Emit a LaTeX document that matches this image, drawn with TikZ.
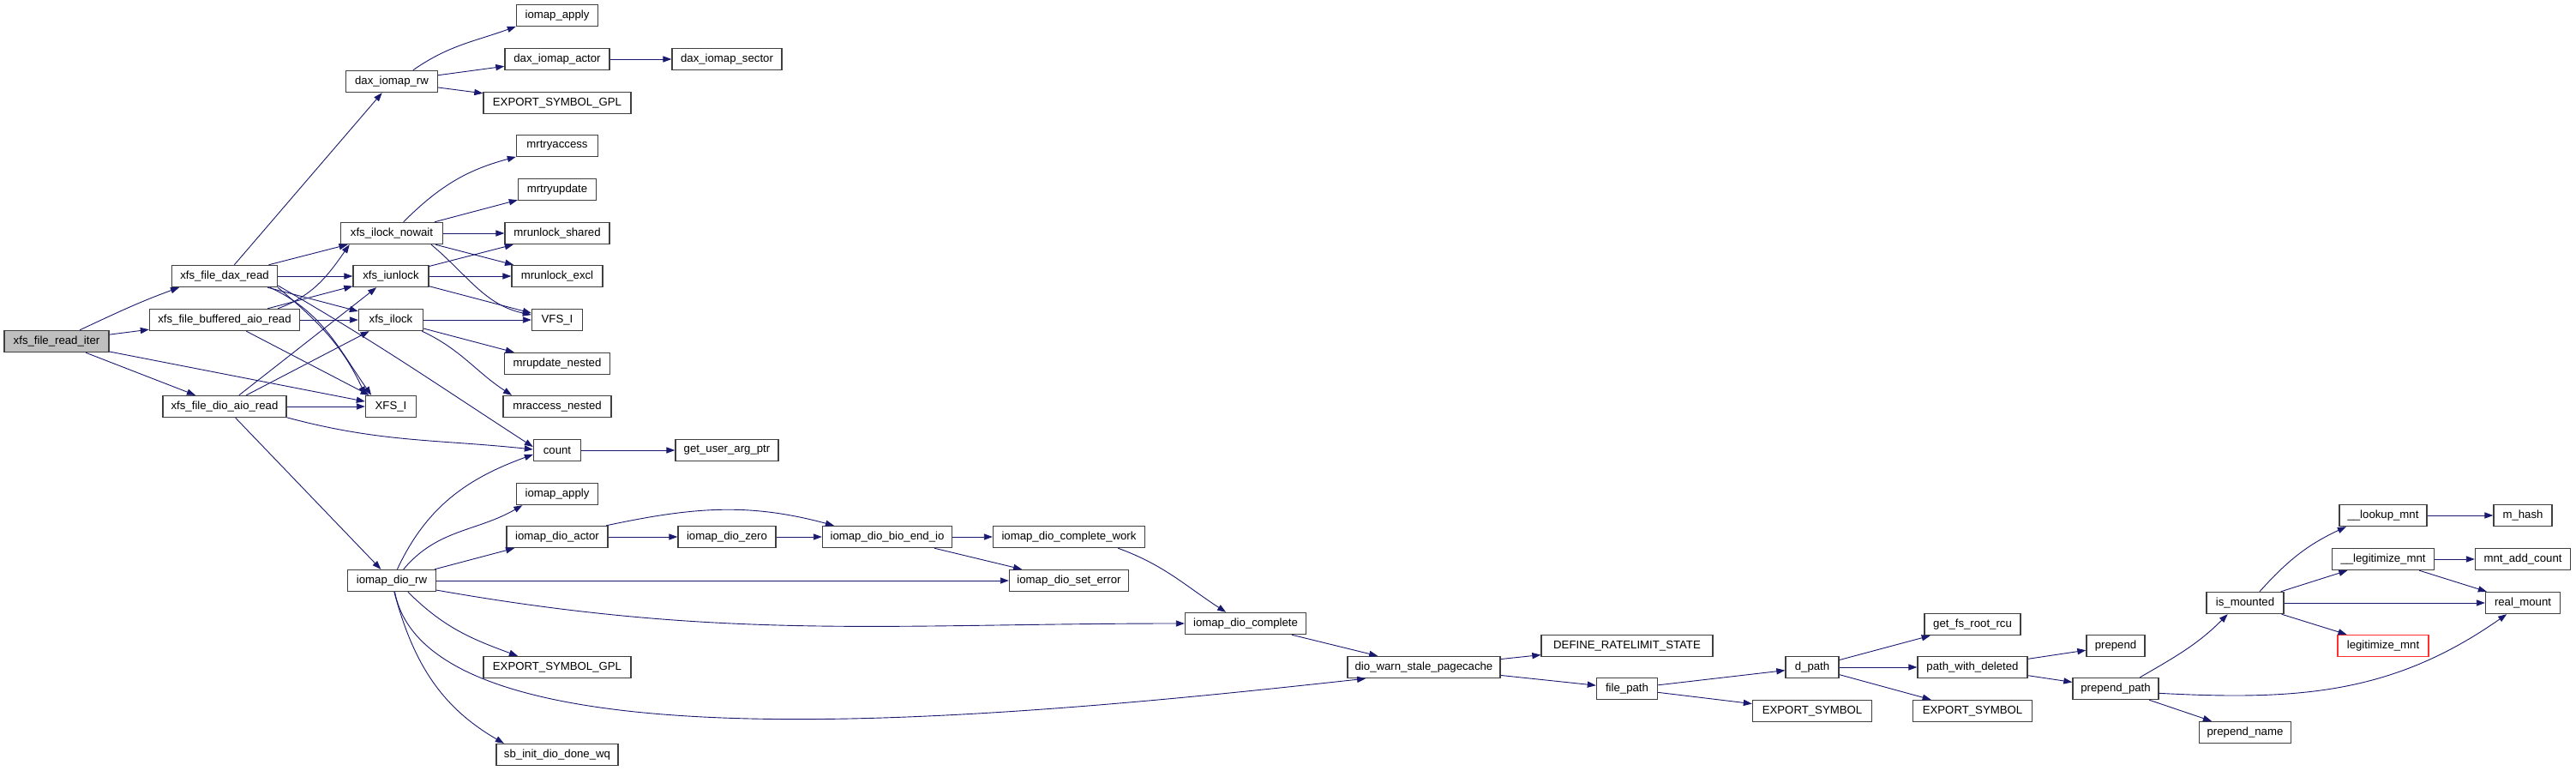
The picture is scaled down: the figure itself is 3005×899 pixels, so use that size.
\documentclass[tikz,border=0pt]{standalone}
\usepackage{fontspec}
\setmainfont{Liberation Sans}
\usetikzlibrary{arrows.meta}
\definecolor{edgeblue}{HTML}{191970}
\definecolor{boxline}{HTML}{404040}
\definecolor{rootfill}{HTML}{BFBFBF}
\definecolor{missline}{HTML}{FF3030}

\begin{document}
\begin{tikzpicture}[x=0.5pt,y=-0.5pt,>={Triangle[length=5pt,width=3.6pt]},
fnbox/.style={draw=boxline,line width=0.7pt,fill=white,minimum height=12.5pt,inner sep=1pt,font=\fontsize{6.6}{8}\selectfont},
call/.style={->,draw=edgeblue,line width=0.45pt}]
\useasboundingbox (0,0) rectangle (3005,899);
\node[fnbox,fill=rootfill,minimum width=61pt] (readiter) at (66,398) {xfs\_file\_read\_iter};
\node[fnbox,minimum width=61.5pt] (daxread) at (262,322) {xfs\_file\_dax\_read};
\node[fnbox,minimum width=87.5pt] (bufread) at (262,373) {xfs\_file\_buffered\_aio\_read};
\node[fnbox,minimum width=72pt] (dioread) at (262,474) {xfs\_file\_dio\_aio\_read};
\node[fnbox,minimum width=53.5pt] (daxrw) at (457,95) {dax\_iomap\_rw};
\node[fnbox,minimum width=59.5pt] (ilocknw) at (457,272) {xfs\_ilock\_nowait};
\node[fnbox,minimum width=44pt] (iunlock) at (456,322) {xfs\_iunlock};
\node[fnbox,minimum width=37.5pt] (ilock) at (456,373) {xfs\_ilock};
\node[fnbox,minimum width=29.5pt] (xfsi) at (456,474) {XFS\_I};
\node[fnbox,minimum width=51.5pt] (diorw) at (457,677) {iomap\_dio\_rw};
\node[fnbox,minimum width=47.5pt] (apply1) at (650,18) {iomap\_apply};
\node[fnbox,minimum width=61pt] (daxactor) at (650,69) {dax\_iomap\_actor};
\node[fnbox,minimum width=86pt] (expgpl1) at (650,120) {EXPORT\_SYMBOL\_GPL};
\node[fnbox,minimum width=47.5pt] (mrtryacc) at (650,170) {mrtryaccess};
\node[fnbox,minimum width=45.5pt] (mrtryupd) at (650,221) {mrtryupdate};
\node[fnbox,minimum width=61pt] (mrunlsh) at (650,272) {mrunlock\_shared};
\node[fnbox,minimum width=53pt] (mrunlex) at (650,322) {mrunlock\_excl};
\node[fnbox,minimum width=29.5pt] (vfsi) at (650,373) {VFS\_I};
\node[fnbox,minimum width=61.5pt] (mrupdn) at (650,424) {mrupdate\_nested};
\node[fnbox,minimum width=63pt] (mraccn) at (650,474) {mraccess\_nested};
\node[fnbox,minimum width=27.5pt] (count) at (650,525) {count};
\node[fnbox,minimum width=47.5pt] (apply2) at (650,576) {iomap\_apply};
\node[fnbox,minimum width=59pt] (dioactor) at (650,626) {iomap\_dio\_actor};
\node[fnbox,minimum width=86pt] (expgpl2) at (650,778) {EXPORT\_SYMBOL\_GPL};
\node[fnbox,minimum width=71pt] (sbinit) at (650,880) {sb\_init\_dio\_done\_wq};
\node[fnbox,minimum width=64pt] (daxsector) at (848,69) {dax\_iomap\_sector};
\node[fnbox,minimum width=60pt] (getuser) at (848,525) {get\_user\_arg\_ptr};
\node[fnbox,minimum width=57pt] (diozero) at (848,626) {iomap\_dio\_zero};
\node[fnbox,minimum width=75.5pt] (bioend) at (1035,626) {iomap\_dio\_bio\_end\_io};
\node[fnbox,minimum width=88.5pt] (complwork) at (1247,626) {iomap\_dio\_complete\_work};
\node[fnbox,minimum width=69.5pt] (seterror) at (1247,677) {iomap\_dio\_set\_error};
\node[fnbox,minimum width=70.5pt] (dcomplete) at (1453,727) {iomap\_dio\_complete};
\node[fnbox,minimum width=89pt] (diowarn) at (1661,778) {dio\_warn\_stale\_pagecache};
\node[fnbox,minimum width=100pt] (ratelimit) at (1898,753) {DEFINE\_RATELIMIT\_STATE};
\node[fnbox,minimum width=35.5pt] (filepath) at (1898,803) {file\_path};
\node[fnbox,minimum width=31pt] (dpath) at (2114,778) {d\_path};
\node[fnbox,minimum width=69.5pt] (expsym1) at (2114,829) {EXPORT\_SYMBOL};
\node[fnbox,minimum width=56pt] (getfsroot) at (2301,728) {get\_fs\_root\_rcu};
\node[fnbox,minimum width=64pt] (pathdel) at (2301,778) {path\_with\_deleted};
\node[fnbox,minimum width=69.5pt] (expsym2) at (2301,829) {EXPORT\_SYMBOL};
\node[fnbox,minimum width=34pt] (prepend) at (2468,753) {prepend};
\node[fnbox,minimum width=50pt] (prependpath) at (2468,803) {prepend\_path};
\node[fnbox,minimum width=53.5pt] (prependname) at (2619,854) {prepend\_name};
\node[fnbox,minimum width=45pt] (ismounted) at (2619,703) {is\_mounted};
\node[fnbox,minimum width=51pt] (lookupmnt) at (2780,601) {\_\_lookup\_mnt};
\node[fnbox,minimum width=59.5pt] (legitmntu) at (2780,652) {\_\_legitimize\_mnt};
\node[fnbox,draw=missline,minimum width=53pt] (legitmnt) at (2780,753) {legitimize\_mnt};
\node[fnbox,minimum width=34pt] (mhash) at (2943,601) {m\_hash};
\node[fnbox,minimum width=55.5pt] (mntadd) at (2943,652) {mnt\_add\_count};
\node[fnbox,minimum width=43.5pt] (realmount) at (2943,703) {real\_mount};
\draw[call] (readiter.26) to[out=25,in=200] (daxread.194);
\draw[call] (readiter) -- (bufread);
\draw[call] (readiter) -- (dioread);
\draw[call] (readiter) -- (xfsi);
\draw[call] (daxread) -- (daxrw);
\draw[call] (daxread) -- (ilocknw);
\draw[call] (daxread) -- (iunlock);
\draw[call] (daxread) -- (ilock);
\draw[call] (daxread.-14) to[out=-25,in=125] (xfsi.150);
\draw[call] (daxread.-12) to[out=-40,in=115] (xfsi.156);
\draw[call] (daxread.-10) to[out=-30,in=147] (count.172);
\draw[call] (bufread.12) to[out=20,in=235] (ilocknw.195);
\draw[call] (bufread) -- (iunlock);
\draw[call] (bufread) -- (ilock);
\draw[call] (bufread) -- (xfsi);
\draw[call] (dioread) -- (iunlock);
\draw[call] (dioread) -- (ilock);
\draw[call] (dioread) -- (xfsi);
\draw[call] (dioread.-10) to[out=-15,in=174] (count.178);
\draw[call] (dioread) -- (diorw);
\draw[call] (daxrw.28) to[out=35,in=200] (apply1.195);
\draw[call] (daxrw) -- (daxactor);
\draw[call] (daxrw) -- (expgpl1);
\draw[call] (daxactor) -- (daxsector);
\draw[call] (ilocknw.44) to[out=45,in=195] (mrtryacc.195);
\draw[call] (ilocknw) -- (mrtryupd);
\draw[call] (ilocknw) -- (mrunlsh);
\draw[call] (ilocknw) -- (mrunlex);
\draw[call] (ilocknw.-16) to[out=-40,in=168] (vfsi.169);
\draw[call] (iunlock) -- (mrunlsh);
\draw[call] (iunlock) -- (mrunlex);
\draw[call] (iunlock) -- (vfsi);
\draw[call] (ilock) -- (vfsi);
\draw[call] (ilock) -- (mrupdn);
\draw[call] (ilock.-20) to[out=-25,in=147] (mraccn.166);
\draw[call] (count) -- (getuser);
\draw[call] (diorw.64) to[out=65,in=200] (count.190);
\draw[call] (diorw.44) to[out=50,in=210] (apply2.198);
\draw[call] (diorw) -- (dioactor);
\draw[call] (diorw) -- (seterror);
\draw[call] (diorw.-12) to[out=-10,in=180] (dcomplete.west);
\draw[call] (diorw.-35) to[out=-45,in=160] (expgpl2.164);
\draw[call] (diorw.-75) .. controls +(40,210) and +(-446,49) .. (diowarn.191);
\draw[call] (diorw.-78) to[out=-75,in=150] (sbinit.168);
\draw[call] (dioactor) -- (diozero);
\draw[call] (dioactor.13) to[out=12,in=165] (bioend.168);
\draw[call] (diozero) -- (bioend);
\draw[call] (bioend) -- (complwork);
\draw[call] (bioend) -- (seterror);
\draw[call] (complwork.-13) to[out=-20,in=147] (dcomplete.150);
\draw[call] (dcomplete) -- (diowarn);
\draw[call] (diowarn) -- (ratelimit);
\draw[call] (diowarn) -- (filepath);
\draw[call] (filepath) -- (dpath);
\draw[call] (filepath) -- (expsym1);
\draw[call] (dpath) -- (getfsroot);
\draw[call] (dpath) -- (pathdel);
\draw[call] (dpath) -- (expsym2);
\draw[call] (pathdel) -- (prepend);
\draw[call] (pathdel) -- (prependpath);
\draw[call] (prependpath.25) to[out=30,in=225] (ismounted.213);
\draw[call] (prependpath.-6) to[out=-3,in=215] (realmount.215);
\draw[call] (prependpath) -- (prependname);
\draw[call] (ismounted.38) to[out=48,in=205] (lookupmnt.197);
\draw[call] (ismounted) -- (legitmntu);
\draw[call] (ismounted) -- (realmount);
\draw[call] (ismounted) -- (legitmnt);
\draw[call] (lookupmnt) -- (mhash);
\draw[call] (legitmntu) -- (mntadd);
\draw[call] (legitmntu) -- (realmount);
\end{tikzpicture}
\end{document}
